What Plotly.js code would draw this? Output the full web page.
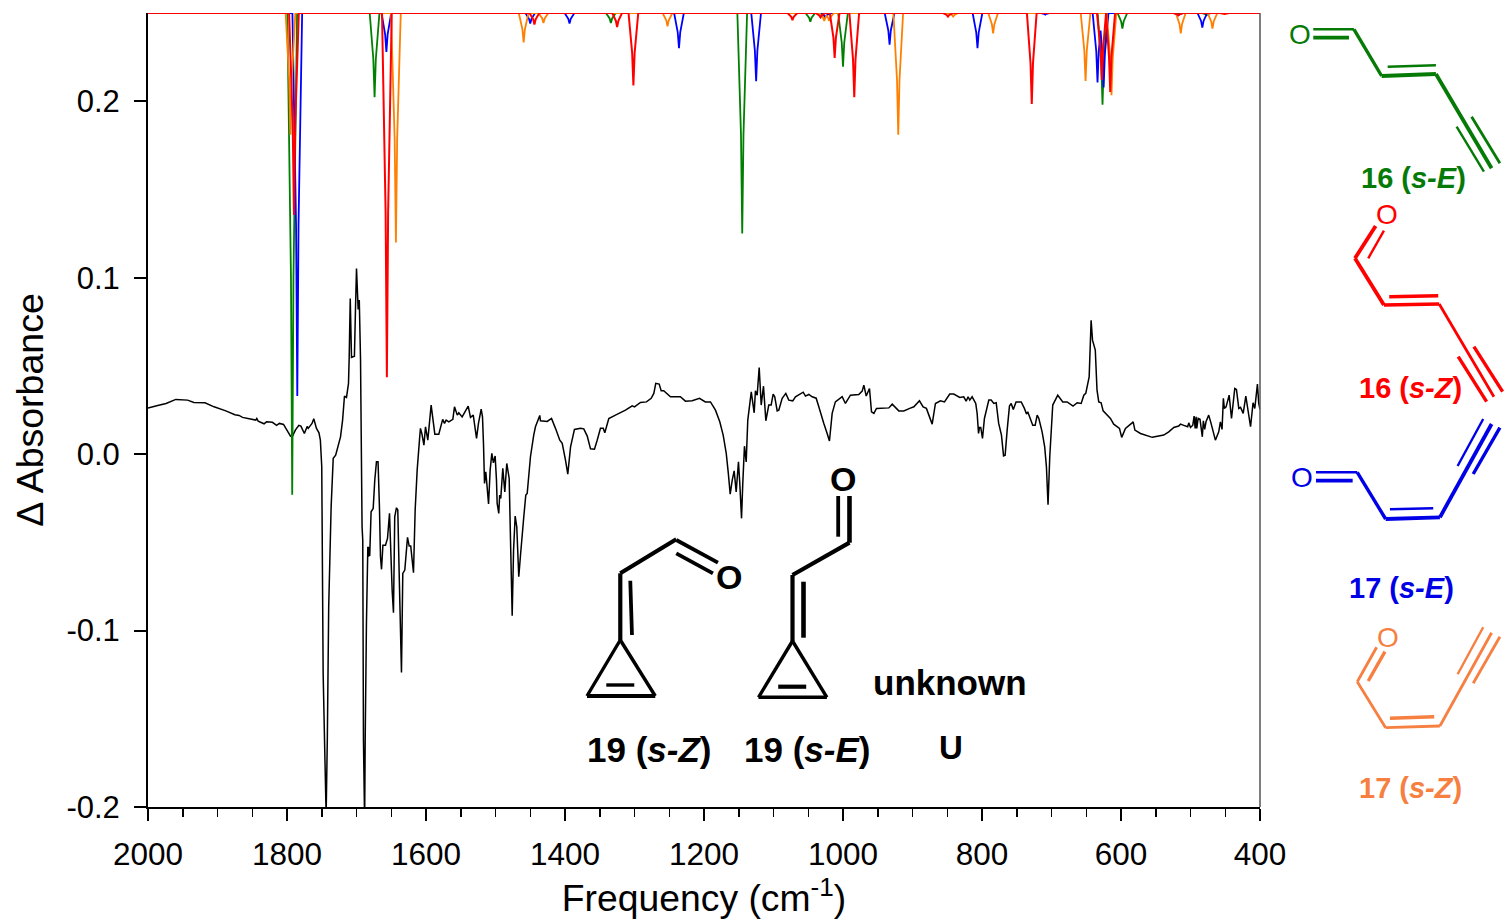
<!DOCTYPE html>
<html>
<head>
<meta charset="utf-8">
<script src="https://cdn.plot.ly/plotly-3.0.1.min.js"></script>
<style>html,body{margin:0;padding:0;background:#fff}#chart{width:1507px;height:921px}</style>
</head>
<body>
<div id="chart"></div>
<script>
var expFreq = [
2000,1986,1974,1960,1943,1934,1918,1905,1888,1875,
1869,1864,1845,1843.5,1841.5,1833,1829.5,1821,1815,1811,
1805,1795,1792.5,1788,1783,1780,1775,1771,1769.5,1764,
1761.5,1757.6,1754,1752,1750,1748,1746,1744,1743.6,1742,
1740,1736.5,1733.5,1730,1723,1720,1717.3,1714.4,1711.5,1710.5,
1709,1707.2,1703,1701.5,1700,1697.6,1696,1694.2,1692,1691,
1690,1688.6,1688.2,1687.5,1685.7,1683.7,1682.7,1681.8,1681,1679,
1676,1673.7,1671.3,1669,1667,1665.5,1664,1662,1658.3,1655.4,
1652.5,1650.7,1648.7,1646.8,1645,1642.5,1640.6,1638.6,1635.3,1633.4,
1630.5,1626.6,1624.2,1622,1618,1615.6,1612.7,1609.4,1608,1606,
1603,1600.7,1597.4,1592.6,1587.3,1581.6,1576,1573.4,1571,1567.2,
1561.4,1559,1555,1552.8,1548,1539.3,1536,1532,1527.3,1524.5,
1520.6,1518.7,1517.3,1515.8,1514,1512.5,1510,1507.7,1505.3,1503,
1500.5,1498.6,1497.6,1495.3,1494,1492.4,1489.5,1486.6,1483.8,1480.3,
1478.4,1476,1474,1471.7,1469.4,1466.5,1464,1459.3,1456.4,1454.4,
1449.7,1445,1442.5,1436.3,1435.3,1425.6,1419.4,1413.7,1407.5,1404,
1399.3,1396,1392,1386.4,1377.7,1373,1368,1363.3,1357.6,1353.7,
1349,1345,1342.7,1337,1327.4,1313,1303.3,1300,1291.4,1282.8,
1276,1272.2,1269.4,1264.5,1261.6,1258,1248.2,1234,1226.7,1217,
1206.5,1198,1190.7,1183.5,1177.3,1172.4,1168,1165,1162.3,1159.4,
1156.6,1153.7,1150.4,1148.5,1146,1144.2,1141.8,1139.3,1137,1132,
1127.8,1126,1123.5,1120.6,1117.7,1114.4,1111,1106.8,1103.4,1100.5,
1098.2,1094.7,1092.4,1087.5,1082.3,1078,1072.3,1068.4,1057.3,1054,
1049.2,1044.3,1038.6,1034.8,1027.6,1022.8,1019.5,1015.6,1011,1001.2,
996.5,989.3,977.3,972.4,970,966.6,961.9,959,955.6,951.8,
934,929.2,919.7,912.5,904,898,890,884.7,880,871.7,
867,859.8,854,846.4,840.6,832,826.3,822.8,820,817.6,
814.2,809,807,805,803.6,801.8,799.3,796.5,790.2,786.8,
783,779.6,776,772,769,766.7,763.8,760.5,758,755,
751,743.6,739,736,734.2,727,723.5,720.6,718.2,713.5,
709.8,707.3,705,702.5,698.2,691,683.8,677.5,669,663,
657.3,653.5,650.7,645.8,643,641,637,634.5,632,628.6,
625.7,615.2,610.5,602.2,599,593.6,584,582.5,580,572,
555,538.5,531.3,524,517,514.4,509.7,504,502.5,500,
496.7,494.8,493.3,491.9,491,489,486.3,483,481.5,479.6,
477.7,473.8,470.4,464.2,459.4,457,454.6,452.7,451.3,448.8,
444.4,441,436.3,433.9,430.5,428,424.2,420.4,413.6,410,
407.5,403.7,401.8,400];
var expAbs = [
.0261,.0276,.0287,.0310,.0306,.0293,.0291,.0268,.0245,.0223,
.0219,.0208,.0193,.0202,.0187,.0172,.0183,.0180,.0163,.0174,
.0168,.0102,.0098,.0136,.0163,.0159,.0117,.0157,.0146,.0174,
.0200,.0146,.0121,.0079,-.0072,-.124,-.162,-.199,-.202,-.162,
-.0865,-.0299,-.0024,-.0006,.0098,.0193,.0329,.0321,.0401,.0551,
.0882,.0548,.0555,.0816,.1052,.0820,.0873,.0533,-.0412,-.0487,
-.162,-.2,-.203,-.162,-.0958,-.0525,-.0582,-.0525,-.0578,-.0327,
-.0308,-.0147,-.0044,-.0044,-.0299,-.0582,-.0653,-.0516,-.0516,-.0478,
-.0336,-.0544,-.0771,-.0899,-.0355,-.0304,-.0317,-.0676,-.1237,-.0676,
-.0657,-.0472,-.0521,-.0521,-.0672,-.0317,-.0091,.0079,.0146,.0117,
.0051,.0155,.0079,.0278,.0113,.0113,.0197,.0174,.0193,.0183,
.0197,.0268,.0221,.0234,.0211,.0272,.0208,.0221,.0089,.0174,
.0255,.0211,.0061,-.0166,-.0100,-.0166,-.0283,-.0091,.0004,-.0049,
-.0011,-.0147,-.0279,-.0336,-.0232,-.0251,-.0081,-.0214,-.0053,-.0138,
-.0487,-.0916,-.0544,-.0351,-.0412,-.0695,-.0572,-.0355,-.0232,-.0223,
-.0015,.0108,.0155,.0219,.0189,.0185,.0202,.0146,.0079,.0061,
-.0034,-.0113,.0041,.0140,.0147,.0143,.0102,.0030,.0028,.0079,
.0146,.0146,.0121,.0202,.0221,.0249,.0274,.0268,.0293,.0296,
.0316,.0344,.0401,.0397,.0359,.0359,.0325,.0325,.0300,.0302,
.0316,.0296,.0296,.0249,.0183,.0108,.0004,-.0109,-.0227,-.0147,
-.0095,-.0214,-.0044,-.0166,-.0364,-.0166,.0045,-.0044,.0193,.0353,
.0234,.0359,.0334,.0491,.0278,.0385,.0189,.0278,.0278,.0340,
.0325,.0245,.0249,.0316,.0344,.0306,.0302,.0325,.0351,.0329,
.0338,.0325,.0317,.0268,.0174,.0117,.0074,.0231,.0296,.0325,
.0287,.0334,.0338,.0357,.0391,.0329,.0372,.0240,.0231,.0259,
.0262,.0283,.0245,.0245,.0259,.0268,.0302,.0268,.0259,.0170,
.0287,.0302,.0296,.0340,.0340,.0321,.0325,.0300,.0325,.0306,
.0325,.0287,.0231,.0117,.0151,.0151,.0089,.0202,.0306,.0306,
.0287,.0291,.0174,.0108,-.0010,-.0006,.0136,.0272,.0287,.0253,
.0296,.0296,.0259,.0227,.0240,.0164,.0164,.0221,.0202,.0126,
.0041,-.0072,-.0287,-.0015,.0278,.0334,.0296,.0296,.0272,.0291,
.0287,.0334,.0344,.0438,.0759,.0646,.059,.0363,.0296,.0291,
.0245,.0202,.0170,.0146,.0095,.0146,.0177,.0183,.0136,.0117,
.0095,.0108,.0126,.0151,.0159,.0170,.0163,.0155,.0177,.0151,
.0164,.0215,.0146,.0211,.0146,.0202,.0197,.0098,.0189,.0140,
.0183,.0221,.0174,.0079,.0126,.0183,.0140,.0316,.0259,.0268,
.0334,.0202,.0372,.0367,.0259,.0265,.0231,.0329,.0155,.0291,
.0259,.0397,.0287,.0253];

var greenFreq = [2000,1799.5,1794.3,1792.5,1790.7,1785.5,1681,1675.8,1674,1672.2,1667,1341,1335.8,1334,1332.2,1327,1152,1146.8,1145,1143.2,1138,1054,1048.8,1047,1045.2,1040,1007,1001.8,1000,998.2,993,633.6,628.4,626.6,624.8,619.6,605,599.8,598,596.2,591,484,478.8,477,475.2,470,400];
var greenAbs  = [.25,.25,.0999,-.023,.0999,.25,.25,.2238,.2023,.2238,.25,.25,.2469,.2443,.2469,.25,.25,.1813,.125,.1813,.25,.25,.2473,.245,.2473,.25,.25,.2332,.2195,.2332,.25,.25,.2214,.198,.2214,.25,.25,.2452,.2412,.2452,.25,.25,.2493,.2487,.2493,.25,.25];

var blueFreq = [2000,
1792.2,1787,1785.2,1783.4,1778.2,
1664,1658.8,1657,1655.2,1650,
1457,1451.8,1450,1448.2,1443,
1400.5,1395.3,1393.5,1391.7,1386.5,
1243,1237.8,1236,1234.2,1229,
1132,1126.8,1125,1123.2,1118,
1032.6,1027.4,1025.6,1023.8,1018.6,
940,934.8,933,931.2,926,
813.5,808.3,806.5,804.7,799.5,
716,710.8,709,707.2,702,
640.8,635.6,633.8,632,629.4,626.8,625,623.2,618,
524.5,519.3,517.5,515.7,510.5,
490,484.8,483,481.2,476,
400];
var blueAbs  = [.25,
.25,.1307,.033,.1307,.25,
.25,.2379,.228,.2379,.25,
.25,.2467,.244,.2467,.25,
.25,.2467,.244,.2467,.25,
.25,.239,.23,.239,.25,
.25,.2287,.2113,.2287,.25,
.25,.2486,.2475,.2486,.25,
.25,.2401,.232,.2401,.25,
.25,.239,.23,.239,.25,
.25,.2495,.249,.2495,.25,
.25,.2283,.2106,.2283,.24,.2268,.2078,.2268,.25,
.25,.2493,.2487,.2493,.25,
.25,.2455,.2418,.2455,.25,
.25];

var orangeFreq = [2000,
1802,1796.8,1795,1793.2,1788,
1650.3,1645.1,1643.3,1641.5,1636.3,
1466.5,1461.3,1459.5,1457.7,1452.5,
1438,1432.8,1431,1429.2,1424,
1259.5,1254.3,1252.5,1250.7,1245.5,
1034,1028.8,1027,1025.2,1023.5,1021.8,1020,1018.2,1013,
927.5,922.3,920.5,918.7,913.5,
848.5,843.3,841.5,839.7,834.5,
791,785.8,784,782.2,777,
658,652.8,651,649.2,644,
620.7,615.5,613.7,611.9,606.7,
521,515.8,514,512.2,507,
475.4,470.2,468.4,466.6,461.4,
458,452.8,451,449.2,444,
400];
var orangeAbs  = [.25,
.25,.212,.181,.212,.25,
.25,.1785,.12,.1785,.25,
.25,.2408,.2333,.2408,.25,
.25,.2469,.2443,.2469,.25,
.25,.2459,.2425,.2459,.25,
.25,.2475,.2455,.2475,.2485,.2475,.2455,.2475,.25,
.25,.212,.181,.212,.25,
.25,.2489,.248,.2489,.25,
.25,.2437,.2385,.2437,.25,
.25,.2288,.2115,.2288,.25,
.25,.2244,.2034,.2244,.25,
.25,.2437,.2385,.2437,.25,
.25,.2452,.2412,.2452,.25,
.25,.2497,.2495,.2497,.25,
.25];

var redFreq = [2000,
1797,1791.8,1790,1788.2,1783,
1663.3,1658.1,1656.3,1654.5,1649.3,
1451,1445.8,1444,1442.2,1437,
1332,1326.8,1325,1323.2,1318,
1308.6,1303.4,1301.6,1299.8,1294.6,
1079.7,1074.5,1072.7,1070.9,1065.7,
1039.4,1034.2,1032.4,1030.6,1025.4,
1019,1013.8,1012,1010.2,1005,
990.8,985.6,983.8,982,976.8,
856,850.8,849,847.2,842,
735.4,730.2,728.4,726.6,721.4,
634.6,629.4,627.6,625.8,621.5,617.3,615.5,613.7,608.5,
524.5,519.3,517.5,515.7,510.5,
458,452.8,451,449.2,444,
400];
var redAbs  = [.25,
.25,.187,.1355,.187,.25,
.25,.1365,.0436,.1365,.25,
.25,.2464,.2435,.2464,.25,
.25,.2456,.242,.2456,.25,
.25,.2275,.209,.2275,.25,
.25,.2478,.246,.2478,.25,
.25,.2486,.2475,.2486,.25,
.25,.236,.2245,.236,.25,
.25,.2238,.2023,.2238,.25,
.25,.2489,.248,.2489,.25,
.25,.2217,.1985,.2217,.25,
.25,.2291,.212,.2291,.25,.2254,.2053,.2254,.25,
.25,.2493,.2487,.2493,.25,
.25,.2497,.2495,.2497,.25,
.25];

var xTickVals = [2000,1800,1600,1400,1200,1000,800,600,400];
var xTickText = ['2000','1800','1600','1400','1200','1000','800','600','400'];
var yTickVals = [-0.2,-0.1,0,0.1,0.2];
var yTickText = ['-0.2','-0.1','0.0','0.1','0.2'];

/* page-pixel geometry of the hand-drawn molecule sketches: [x1,y1,x2,y2,width] */
var L=147.5,R=1260,T=13,B=807;
var GREEN='#067a06',RED='#ff0000',BLUE='#0000e6',ORANGE='#f67f42',BLACK='#000000';
var mol16E=[[1313.3,29.3,1354,29.3,2.4],[1313.3,37.7,1349,37.7,3.8],[1354,29.3,1381.7,76,3.4],[1381.7,76,1436,74,3.8],[1387.7,66.7,1436,65.3,2.4],[1436,74,1491.7,168.3,3.8],[1456.7,126.7,1484,171.7,2.4],[1471.7,116.7,1500,163.3,2.8]];
var mol16Z=[[1355,258.3,1375.7,226,3.8],[1368.3,258.3,1384,230.7,2.4],[1355,258.3,1384,305,3.8],[1384,305,1439.3,304,3.4],[1389.3,296.7,1438.3,295.7,3.4],[1439.3,304,1494,396.7,2.8],[1458.3,356.7,1486.7,401.7,3.4],[1474,346.7,1502.7,391.7,3.4]];
var mol17E=[[1316,472.3,1357.3,472.3,2.4],[1316,480.7,1352.7,480.7,3.8],[1357.3,472.3,1385.7,519,3.4],[1385.7,519,1440,517.3,3.8],[1390,509.3,1433.3,508.3,2.4],[1440,517.3,1491.7,424,3.8],[1457.7,466,1483.3,419,2.4],[1473.3,474,1500,427.7,3.4]];
var mol17Z=[[1357.3,681.7,1376.7,647.3,2.8],[1368.3,681,1385,651.7,3.4],[1357.3,681.7,1385.7,727.7,2.8],[1385.7,727.7,1440,726,2.8],[1390,718.3,1434.3,716.7,3.4],[1440,726,1491.7,632.7,2.8],[1457.7,674.3,1483.3,627.3,2.4],[1473.3,683.3,1500,636.7,2.8]];
var mol19Z=[[620,640,586.7,696,3.4],[586.7,696,655,696,4.2],[655,696,620,640,3.4],[620,640,620,573.3,4.2],[630,580.7,631.7,635,3.8],[620,573.3,676,539.3,4.2],[676,540,717.7,562.7,3.8],[676,553.3,712.7,573.3,3.8],[606,685,634,685,3.4]];
var mol19E=[[792.3,641,758.3,697.3,3.4],[758.3,697.3,826.7,697.3,3.4],[826.7,697.3,792.3,641,3.4],[792.3,641,792.3,575,4.2],[803.3,581.7,803.3,637.7,4.6],[792.3,575,849.3,542.7,4.2],[849.3,542.7,849.3,496,4.6],[838,496,838,536.7,3.8],[778,686.7,806,686.7,4.2]];

function px(x){return (x-L)/(R-L);}
function py(y){return 1-(y-T)/(B-T);}
function bonds(list,color){
  return list.map(function(b){return {type:'line',xref:'paper',yref:'paper',layer:'above',
    x0:px(b[0]),y0:py(b[1]),x1:px(b[2]),y1:py(b[3]),line:{color:color,width:b[4]}};});
}
function label(text,x,y,size,color){
  return {text:text,xref:'paper',yref:'paper',x:px(x),y:py(y),xanchor:'center',yanchor:'middle',
    showarrow:false,font:{family:'Liberation Sans',size:size,color:color}};
}
var shapes=[].concat(bonds(mol16E,GREEN),bonds(mol16Z,RED),bonds(mol17E,BLUE),bonds(mol17Z,ORANGE),bonds(mol19Z,BLACK),bonds(mol19E,BLACK));
shapes.push({type:'line',xref:'paper',yref:'paper',x0:1,x1:1,y0:0,y1:1,line:{color:'#555555',width:1.5}});

var annotations=[
  label('O',1300,35,28,GREEN),label('<b>16 (<i>s-E</i>)</b>',1413.5,178,29,GREEN),
  label('O',1386.7,215,28,RED),label('<b>16 (<i>s-Z</i>)</b>',1410.5,388,29,RED),
  label('O',1302.3,477,28,BLUE),label('<b>17 (<i>s-E</i>)</b>',1401.7,588,29,BLUE),
  label('O',1387.7,637,28,ORANGE),label('<b>17 (<i>s-Z</i>)</b>',1410.5,788,29,ORANGE),
  label('<b>O</b>',728.3,577,34,BLACK),label('<b>O</b>',843.3,479,34,BLACK),
  label('<b>19 (<i>s-Z</i>)</b>',649,749,35,BLACK),label('<b>19 (<i>s-E</i>)</b>',807,749,35,BLACK),
  label('<b>unknown</b>',949.5,682,35,BLACK),label('<b>U</b>',950.5,747,33,BLACK)
];

function trace(x,y,color,width,clip){
  return {type:'scatter',mode:'lines',x:x,y:y,cliponaxis:clip,hoverinfo:'skip',line:{color:color,width:width,simplify:false}};
}
var traces=[
  trace(expFreq,expAbs,'#000000',1.5,true),
  trace(greenFreq,greenAbs,'#008000',1.8,false),
  trace(blueFreq,blueAbs,'#0000ff',1.8,false),
  trace(orangeFreq,orangeAbs,'#ff8000',1.8,false),
  trace(redFreq,redAbs,'#ff0000',2,false)
];
var layout={
  width:1507,height:921,showlegend:false,paper_bgcolor:'#fff',plot_bgcolor:'#fff',
  margin:{l:L,r:1507-R,t:T,b:921-B,pad:0},
  font:{family:'Liberation Sans',color:'#000'},
  xaxis:{range:[2000,400],tickmode:'array',tickvals:xTickVals,ticktext:xTickText,ticks:'outside',ticklen:12,tickwidth:2,tickcolor:'#000',
    minor:{tickmode:'linear',tick0:400,dtick:50,ticks:'outside',ticklen:8,tickwidth:1.5,tickcolor:'#000'},
    showgrid:false,zeroline:false,showline:true,linecolor:'#000',linewidth:2,tickfont:{size:31.5},ticklabelstandoff:6,
    title:{text:'Frequency (cm<sup>-1</sup>)',font:{size:37.3},standoff:12},automargin:false},
  yaxis:{range:[-0.2,0.25],tickmode:'array',tickvals:yTickVals,ticktext:yTickText,ticks:'outside',ticklen:12,tickwidth:2,tickcolor:'#000',
    showgrid:false,zeroline:false,showline:true,linecolor:'#000',linewidth:2,tickfont:{size:31},ticklabelstandoff:8,
    title:{text:'Δ Absorbance',font:{size:37.5},standoff:11},automargin:false},
  shapes:shapes,annotations:annotations
};
Plotly.newPlot('chart',traces,layout,{displayModeBar:false,staticPlot:true});
</script>
</body>
</html>
